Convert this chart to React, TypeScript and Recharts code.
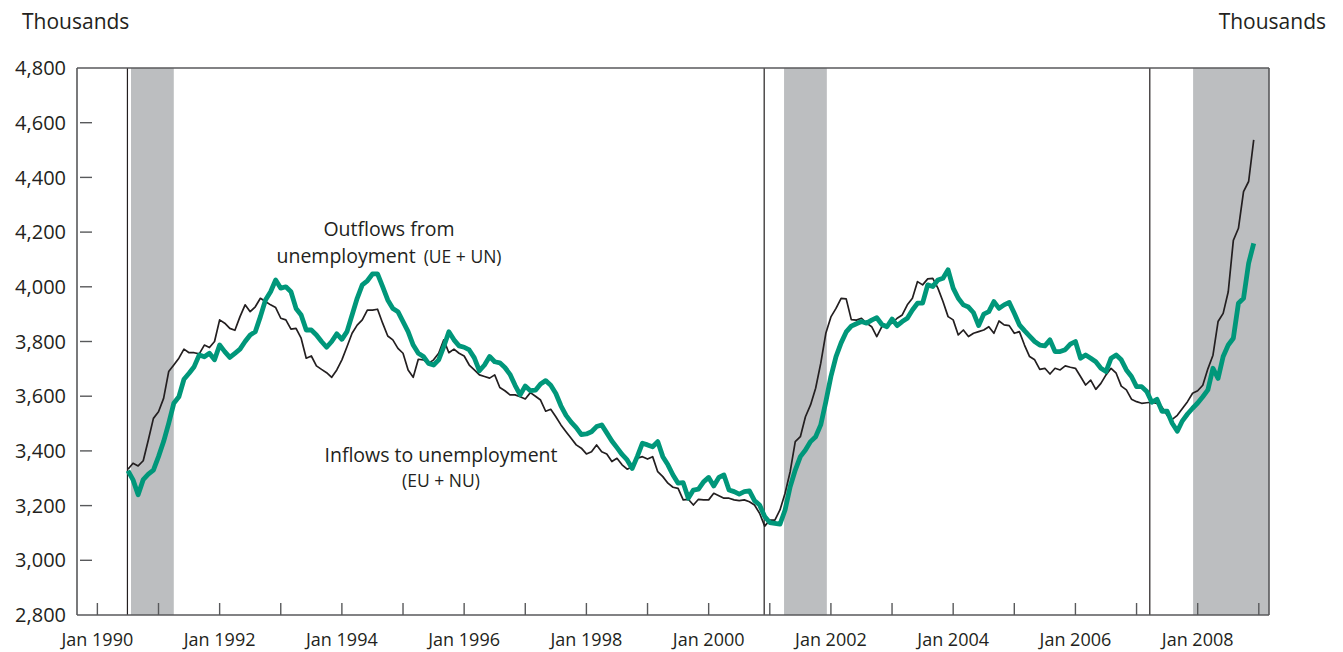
import { LineChart, Line, XAxis, YAxis, ReferenceArea, ReferenceLine } from "recharts";

// months counted from Jan 1990 (0 = Jan 1990); series start Jul 1990
const START_MONTH = 6;

// Inflows to unemployment (EU + NU), thousands, monthly Jul 1990 - Dec 2008
const inflows = [
  3333, 3355, 3345, 3364, 3440, 3519, 3543, 3592, 3690, 3714,
  3739, 3772, 3759, 3759, 3755, 3787, 3778, 3800, 3879, 3867,
  3848, 3841, 3891, 3934, 3909, 3927, 3958, 3946, 3934, 3924,
  3885, 3879, 3845, 3848, 3812, 3739, 3747, 3711, 3698, 3686,
  3669, 3696, 3733, 3781, 3830, 3860, 3879, 3915, 3915, 3918,
  3867, 3820, 3806, 3775, 3757, 3696, 3669, 3735, 3733, 3720,
  3733, 3757, 3806, 3759, 3772, 3757, 3747, 3714, 3696, 3678,
  3672, 3666, 3678, 3632, 3620, 3605, 3605, 3598, 3590, 3613,
  3600, 3586, 3545, 3552, 3525, 3495, 3470, 3446, 3422, 3410,
  3389, 3397, 3422, 3397, 3389, 3361, 3373, 3349, 3333, 3342,
  3373, 3379, 3370, 3379, 3324, 3306, 3282, 3267, 3263, 3221,
  3223, 3202, 3223, 3221, 3221, 3245, 3236, 3227, 3227, 3221,
  3218, 3221, 3214, 3202, 3172, 3125, 3147, 3147, 3184, 3245,
  3324, 3434, 3452, 3525, 3568, 3629, 3720, 3830, 3890, 3921,
  3958, 3956, 3880, 3878, 3885, 3867, 3854, 3818, 3854, 3861,
  3867, 3885, 3897, 3934, 3958, 4019, 4007, 4029, 4031, 3995,
  3946, 3891, 3879, 3824, 3842, 3818, 3830, 3836, 3842, 3854,
  3830, 3875, 3861, 3858, 3830, 3836, 3787, 3745, 3733, 3698,
  3702, 3681, 3702, 3696, 3711, 3706, 3702, 3672, 3641, 3659,
  3625, 3647, 3678, 3702, 3684, 3637, 3623, 3589, 3580, 3574,
  3576, 3578, 3574, 3560, 3530, 3515, 3530, 3555, 3580, 3611,
  3620, 3640, 3700, 3750, 3873, 3903, 3982, 4170, 4214, 4348,
  4385, 4537,
];

// Outflows from unemployment (UE + UN), thousands
const outflows = [
  3328, 3294, 3240, 3295, 3315, 3330, 3379, 3434, 3501, 3574,
  3598, 3662, 3684, 3708, 3751, 3744, 3757, 3733, 3787, 3763,
  3742, 3757, 3772, 3800, 3824, 3836, 3891, 3952, 3982, 4025,
  3995, 4000, 3982, 3921, 3897, 3842, 3842, 3824, 3800, 3779,
  3800, 3828, 3808, 3836, 3897, 3958, 4007, 4022, 4047, 4047,
  4001, 3952, 3921, 3909, 3873, 3836, 3787, 3757, 3745, 3720,
  3714, 3733, 3781, 3836, 3806, 3784, 3779, 3769, 3740, 3693,
  3714, 3745, 3726, 3722, 3705, 3680, 3640, 3605, 3637, 3620,
  3622, 3645, 3657, 3640, 3610, 3565, 3530, 3505, 3485, 3460,
  3462, 3470, 3489, 3495, 3466, 3436, 3412, 3387, 3367, 3336,
  3380, 3428, 3422, 3415, 3434, 3379, 3349, 3312, 3282, 3284,
  3227, 3257, 3260, 3287, 3303, 3272, 3303, 3312, 3257, 3251,
  3242, 3251, 3254, 3218, 3202, 3160, 3138, 3135, 3132, 3184,
  3269, 3330, 3379, 3403, 3434, 3452, 3495, 3580, 3672, 3745,
  3795, 3835, 3856, 3865, 3873, 3867, 3878, 3887, 3862, 3854,
  3882, 3858, 3873, 3885, 3915, 3940, 3940, 4007, 4001, 4025,
  4031, 4062, 3995, 3958, 3934, 3926, 3905, 3858, 3900, 3909,
  3946, 3921, 3934, 3943, 3903, 3861, 3840, 3820, 3800, 3787,
  3784, 3806, 3763, 3763, 3770, 3790, 3800, 3739, 3751, 3739,
  3726, 3702, 3690, 3739, 3751, 3733, 3696, 3672, 3635, 3635,
  3617, 3578, 3589, 3545, 3545, 3501, 3472, 3510, 3535, 3556,
  3575, 3598, 3623, 3702, 3665, 3745, 3787, 3812, 3940, 3958,
  4086, 4159,
];

// recessions (shaded), in months from Jan 1990
const recessionStart = [6.6, 134.8, 215.1];
const recessionEnd = [15, 143.2, 230];

// vertical break lines
const breakMonths = [5.9, 130.9, 206.6];

const xTicks = [0, 12, 24, 36, 48, 60, 72, 84, 96, 108, 120, 132, 144, 156, 168, 180, 192, 204, 216, 228];
const yTicks = [2800, 3000, 3200, 3400, 3600, 3800, 4000, 4200, 4400, 4600, 4800];

const chartData = inflows.map((v, i) => ({
  m: START_MONTH + i,
  inflows: v,
  outflows: outflows[i],
}));

const FONT = "'Open Sans', sans-serif";
const TEXT = "#231f20";
const AXIS = "#58595b";
const GREEN = "#00977a";

const fmt = (v: number) => v.toLocaleString("en-US");

function XTick(props: any) {
  const { x, y, payload } = props;
  const m = payload.value as number;
  return (
    <g>
      <line x1={x} x2={x} y1={y - 12} y2={y} stroke={AXIS} strokeWidth={1.4} />
      {m % 24 === 0 && (
        <text x={x} y={y + 31} textAnchor="middle" fontSize={18} fontFamily={FONT} fill={TEXT}>
          {`Jan ${1990 + m / 12}`}
        </text>
      )}
    </g>
  );
}

function LeftTick(props: any) {
  const { x, y, payload } = props;
  const v = payload.value as number;
  return (
    <g>
      {v > 2800 && v < 4800 && (
        <line x1={x + 14} x2={x + 26} y1={y} y2={y} stroke={AXIS} strokeWidth={1.4} />
      )}
      <text x={x} y={y} dy="0.355em" textAnchor="end" fontSize={20} fontFamily={FONT} fill={TEXT}>
        {fmt(v)}
      </text>
    </g>
  );
}

function RightTick(props: any) {
  const { x, y, payload } = props;
  const v = payload.value as number;
  return (
    <g>
      {v > 2800 && v < 4800 && (
        <line x1={x - 23} x2={x - 11} y1={y} y2={y} stroke={AXIS} strokeWidth={1.4} />
      )}
      <text x={x} y={y} dy="0.355em" textAnchor="start" fontSize={20} fontFamily={FONT} fill={TEXT}>
        {fmt(v)}
      </text>
    </g>
  );
}

export default function App() {
  return (
    <div style={{ position: "absolute", left: 0, top: 0, width: 1343, height: 652, background: "#fff" }}>
      <LineChart width={1343} height={652} data={chartData} margin={{ top: 68, right: 0, bottom: 0, left: 0 }}>
        <XAxis
          dataKey="m"
          type="number"
          domain={[-4, 230]}
          ticks={xTicks}
          interval={0}
          height={37}
          tickSize={0}
          tickMargin={0}
          tickLine={false}
          axisLine={{ stroke: AXIS, strokeWidth: 1.6 }}
          tick={(p: any) => <XTick {...p} />}
        />
        <YAxis
          yAxisId="left"
          orientation="left"
          width={77}
          domain={[2800, 4800]}
          ticks={yTicks}
          interval={0}
          tickSize={0}
          tickMargin={11}
          tickLine={false}
          axisLine={{ stroke: AXIS, strokeWidth: 1.6 }}
          tick={(p: any) => <LeftTick {...p} />}
        />
        <YAxis
          yAxisId="right"
          orientation="right"
          width={74}
          domain={[2800, 4800]}
          ticks={yTicks}
          interval={0}
          tickSize={0}
          tickMargin={11}
          tickLine={false}
          axisLine={{ stroke: AXIS, strokeWidth: 1.6 }}
          tick={(p: any) => <RightTick {...p} />}
        />
        {recessionStart.map((s, i) => (
          <ReferenceArea
            key={`rec-${i}`}
            yAxisId="left"
            x1={s}
            x2={recessionEnd[i]}
            fill="#bcbec0"
            fillOpacity={1}
            stroke="none"
          />
        ))}
        {breakMonths.map((b) => (
          <ReferenceLine key={`br-${b}`} yAxisId="left" x={b} stroke={TEXT} strokeWidth={1.2} />
        ))}
        <ReferenceLine yAxisId="left" y={4800} stroke={AXIS} strokeWidth={1.6} />
        <Line
          yAxisId="left"
          type="linear"
          dataKey="inflows"
          stroke={TEXT}
          strokeWidth={1.7}
          strokeLinejoin="round"
          dot={false}
          isAnimationActive={false}
        />
        <Line
          yAxisId="left"
          type="linear"
          dataKey="outflows"
          stroke={GREEN}
          strokeWidth={4.8}
          strokeLinejoin="round"
          dot={false}
          isAnimationActive={false}
        />
      </LineChart>
      <svg
        width={1343}
        height={652}
        style={{ position: "absolute", left: 0, top: 0, pointerEvents: "none" }}
        fontFamily={FONT}
        fill={TEXT}
      >
        <text x={22} y={29} fontSize={21}>Thousands</text>
        <text x={1326} y={29} fontSize={21} textAnchor="end">Thousands</text>
        <text x={389} y={236} fontSize={19.5} textAnchor="middle">Outflows from</text>
        <text x={389} y={263} fontSize={19.5} textAnchor="middle">
          unemployment<tspan dx={8} fontSize={17.5}>(UE + UN)</tspan>
        </text>
        <text x={441} y={462} fontSize={19.5} textAnchor="middle">Inflows to unemployment</text>
        <text x={441} y={487} fontSize={17.5} textAnchor="middle">(EU + NU)</text>
      </svg>
    </div>
  );
}
